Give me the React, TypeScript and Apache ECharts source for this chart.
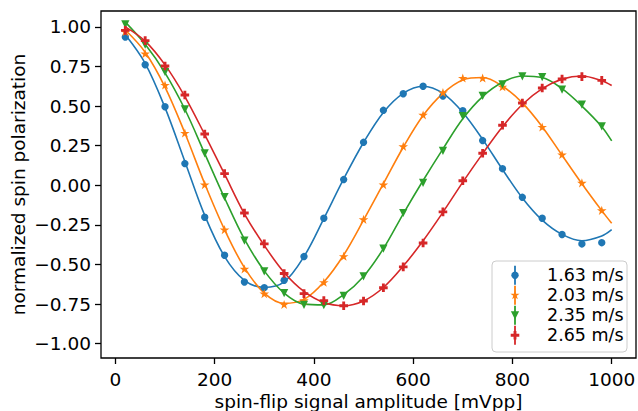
import React, { useEffect, useRef } from "react";
import * as echarts from "echarts";

const seriesNames = ["1.63 m/s", "2.03 m/s", "2.35 m/s", "2.65 m/s"];
const colors = ["#1f77b4", "#ff7f0e", "#2ca02c", "#d62728"];

const pointX = [20, 60, 100, 140, 180, 220, 260, 300, 340, 380, 420, 460, 500, 540, 580, 620, 660, 700, 740, 780, 820, 860, 900, 940, 980];
const blueY = [0.936, 0.761, 0.496, 0.137, -0.202, -0.442, -0.61, -0.646, -0.6, -0.45, -0.208, 0.036, 0.271, 0.473, 0.578, 0.625, 0.564, 0.471, 0.282, 0.105, -0.076, -0.208, -0.311, -0.37, -0.362];
const orangeY = [0.97, 0.831, 0.633, 0.33, 0.004, -0.28, -0.528, -0.684, -0.752, -0.726, -0.612, -0.448, -0.215, 0.004, 0.246, 0.444, 0.585, 0.677, 0.677, 0.622, 0.519, 0.368, 0.194, 0.015, -0.158];
const greenY = [1.016, 0.887, 0.715, 0.479, 0.202, -0.074, -0.349, -0.543, -0.68, -0.755, -0.757, -0.698, -0.575, -0.4, -0.175, 0.015, 0.217, 0.437, 0.564, 0.637, 0.688, 0.683, 0.604, 0.509, 0.372];
const redY = [0.978, 0.913, 0.753, 0.57, 0.324, 0.074, -0.175, -0.37, -0.557, -0.684, -0.728, -0.76, -0.73, -0.647, -0.515, -0.364, -0.168, 0.029, 0.202, 0.379, 0.519, 0.614, 0.671, 0.686, 0.662];

const fitX = [20, 60, 100, 140, 180, 220, 260, 300, 340, 380, 420, 460, 500, 540, 580, 620, 660, 700, 740, 780, 820, 860, 900, 940, 980, 1000];
const blueFit = [0.95, 0.77, 0.49, 0.15, -0.19, -0.45, -0.6, -0.645, -0.61, -0.45, -0.21, 0.04, 0.27, 0.46, 0.58, 0.625, 0.58, 0.46, 0.29, 0.1, -0.08, -0.22, -0.31, -0.35, -0.32, -0.28];
const orangeFit = [0.98, 0.84, 0.62, 0.33, 0.01, -0.28, -0.52, -0.68, -0.745, -0.72, -0.61, -0.44, -0.22, 0.01, 0.24, 0.44, 0.58, 0.665, 0.68, 0.625, 0.52, 0.37, 0.19, 0.01, -0.16, -0.24];
const greenFit = [1.03, 0.89, 0.71, 0.48, 0.2, -0.08, -0.34, -0.54, -0.68, -0.75, -0.755, -0.69, -0.575, -0.4, -0.18, 0.03, 0.23, 0.42, 0.56, 0.65, 0.69, 0.68, 0.61, 0.5, 0.37, 0.28];
const redFit = [1.0, 0.91, 0.76, 0.56, 0.32, 0.07, -0.18, -0.38, -0.55, -0.67, -0.74, -0.76, -0.73, -0.645, -0.51, -0.35, -0.17, 0.02, 0.2, 0.37, 0.51, 0.61, 0.67, 0.69, 0.66, 0.63];

const xTicks = [0, 200, 400, 600, 800, 1000];
const yTicks = [-1, -0.75, -0.5, -0.25, 0, 0.25, 0.5, 0.75, 1];

const FONT = "DejaVu Sans";

function shapePoints(kind: string, s: number): number[][] {
  const r = s / 2;
  if (kind === "circle") {
    const pts: number[][] = [];
    for (let k = 0; k < 24; k++) {
      const a = (k / 24) * Math.PI * 2;
      pts.push([r * Math.cos(a), r * Math.sin(a)]);
    }
    return pts;
  }
  if (kind === "star") {
    const pts: number[][] = [];
    for (let k = 0; k < 10; k++) {
      const a = -Math.PI / 2 + (k * Math.PI) / 5;
      const rr = k % 2 === 0 ? r : r * 0.382;
      pts.push([rr * Math.cos(a), rr * Math.sin(a)]);
    }
    return pts;
  }
  if (kind === "tri") {
    return [[-r, -r], [r, -r], [0, r]];
  }
  const u = s / 6;
  return [[-u, -3 * u], [u, -3 * u], [u, -u], [3 * u, -u], [3 * u, u], [u, u], [u, 3 * u], [-u, 3 * u], [-u, u], [-3 * u, u], [-3 * u, -u], [-u, -u]];
}

function polyPath(pts: number[][]): string {
  return pts.map((p, i) => (i === 0 ? "M" : "L") + p[0].toFixed(3) + "," + p[1].toFixed(3)).join(" ") + " Z";
}

const kinds = ["circle", "star", "tri", "plus"];
const sizes = [7.4, 9.6, 8.2, 8.6];

export default function App() {
  const ref = useRef<HTMLDivElement>(null);
  useEffect(() => {
    if (!ref.current) return;
    const chart = echarts.init(ref.current, undefined, { renderer: "svg" });
    const pts = [blueY, orangeY, greenY, redY];
    const fits = [blueFit, orangeFit, greenFit, redFit];
    const series: any[] = [];
    fits.forEach((f, i) => {
      series.push({
        type: "line",
        name: "fit " + seriesNames[i],
        data: fitX.map((x, j) => [x, f[j]]),
        smooth: 0.35,
        showSymbol: false,
        symbol: "none",
        lineStyle: { color: colors[i], width: 1.6 },
        itemStyle: { color: colors[i] },
        z: 2,
      });
    });
    pts.forEach((p, i) => {
      series.push({
        type: "scatter",
        name: seriesNames[i],
        data: pointX.map((x, j) => [x, p[j]]),
        symbol: kinds[i] === "circle" ? "circle" : "path://" + polyPath(shapePoints(kinds[i], 10)),
        symbolKeepAspect: true,
        symbolSize: sizes[i],
        itemStyle: { color: colors[i], opacity: 1 },
        z: 3,
      });
    });

    const legendLeft = 492;
    const legendTop = 261;
    const markerX = 515;
    const textX = 547;
    const rowY0 = 275.3;
    const rowStep = 20;
    const legendChildren: any[] = [
      {
        type: "rect",
        shape: { x: legendLeft, y: legendTop, width: 135, height: 91, r: 4 },
        style: { fill: "rgba(255,255,255,0.8)", stroke: "#cccccc", lineWidth: 1 },
      },
    ];
    seriesNames.forEach((n, i) => {
      const cy = rowY0 + i * rowStep;
      legendChildren.push({
        type: "rect",
        shape: { x: markerX - 0.9, y: cy - 9.5, width: 1.8, height: 19 },
        style: { fill: colors[i] },
      });
      if (kinds[i] === "circle") {
        legendChildren.push({ type: "circle", shape: { cx: markerX, cy, r: sizes[i] / 2 }, style: { fill: colors[i] } });
      } else {
        legendChildren.push({
          type: "polygon",
          shape: { points: shapePoints(kinds[i], sizes[i]).map((p) => [p[0] + markerX, p[1] + cy]) },
          style: { fill: colors[i] },
        });
      }
      legendChildren.push({
        type: "text",
        x: textX,
        y: cy,
        style: { text: n, fill: "#000", font: "17.5px 'DejaVu Sans'", textAlign: "left", textVerticalAlign: "middle" },
      });
    });

    chart.setOption({
      animation: false,
      textStyle: { fontFamily: FONT },
      grid: {
        left: 101,
        top: 11,
        width: 535,
        height: 347,
        show: true,
        borderColor: "#000",
        borderWidth: 1.3,
        backgroundColor: "transparent",
        containLabel: false,
        outerBoundsMode: "none",
      },
      xAxis: {
        type: "value",
        min: -29,
        max: 1049,
        name: "spin-flip signal amplitude [mVpp]",
        nameLocation: "middle",
        nameGap: 34,
        nameMoveOverlap: false,
        nameTextStyle: { fontFamily: FONT, fontSize: 18.5, color: "#000" },
        axisLine: { show: false, onZero: false },
        axisTick: { show: true, length: 6, lineStyle: { color: "#000", width: 1.3 }, customValues: xTicks },
        axisLabel: { fontFamily: FONT, fontSize: 18.5, color: "#000", margin: 12, customValues: xTicks, formatter: (v: number) => String(v) },
        splitLine: { show: false },
      },
      yAxis: {
        type: "value",
        min: -1.09,
        max: 1.1,
        name: "normalized spin polarization",
        nameLocation: "middle",
        nameGap: 73,
        nameMoveOverlap: false,
        nameTextStyle: { fontFamily: FONT, fontSize: 18.5, color: "#000" },
        axisLine: { show: false, onZero: false },
        axisTick: { show: true, length: 6, lineStyle: { color: "#000", width: 1.3 }, customValues: yTicks },
        axisLabel: {
          fontFamily: FONT,
          fontSize: 18.5,
          color: "#000",
          margin: 10,
          customValues: yTicks,
          formatter: (v: number) => v.toFixed(2).replace("-", "\u2212"),
        },
        splitLine: { show: false },
      },
      graphic: [{ type: "group", z: 100, children: legendChildren }],
      series,
    });
    return () => chart.dispose();
  }, []);
  return <div ref={ref} style={{ position: "absolute", left: 0, top: 0, width: 638, height: 411 }} />;
}
